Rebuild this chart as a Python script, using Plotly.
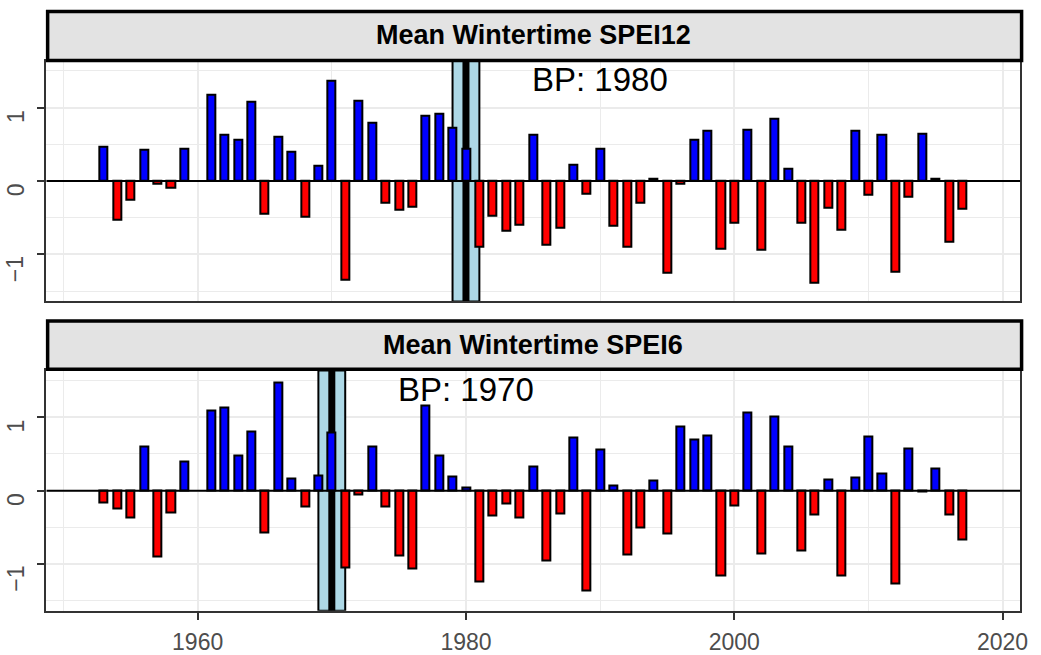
import plotly.graph_objects as go

# ---------------- data ----------------
years = list(range(1953, 2018))

spei12 = [0.47, -0.53, -0.25, 0.43, -0.04, -0.09, 0.44, None,
          1.175, 0.63, 0.56, 1.08, -0.45, 0.61, 0.395, -0.49, 0.215, 1.37,
          -1.34, 1.10, 0.80, -0.30, -0.385, -0.345, 0.89, 0.92, 0.73, 0.44,
          -0.90, -0.47, -0.68, -0.60, 0.63, -0.87, -0.64, 0.23, -0.17, 0.44,
          -0.61, -0.89, -0.29, 0.03, -1.25, -0.04, 0.57, 0.68, -0.92, -0.56,
          0.695, -0.93, 0.85, 0.17, -0.56, -1.38, -0.36, -0.655, 0.68, -0.18,
          0.63, -1.23, -0.21, 0.64, 0.03, -0.82, -0.38]

spei6 = [-0.16, -0.24, -0.36, 0.605, -0.90, -0.30, 0.40, None,
         1.095, 1.135, 0.475, 0.81, -0.57, 1.47, 0.166, -0.22, 0.206, 0.79,
         -1.045, -0.05, 0.605, -0.22, -0.88, -1.06, 1.157, 0.475, 0.197, 0.05,
         -1.24, -0.34, -0.18, -0.36, 0.336, -0.95, -0.31, 0.72, -1.36, 0.56,
         0.07, -0.875, -0.50, 0.135, -0.58, 0.87, 0.70, 0.76, -1.15, -0.20,
         1.07, -0.85, 1.01, 0.605, -0.82, -0.33, 0.15, -1.16, 0.18, 0.74,
         0.24, -1.26, 0.58, -0.01, 0.305, -0.33, -0.67]

panel_titles = ["Mean Wintertime SPEI12", "Mean Wintertime SPEI6"]
breakpoints = [1980, 1970]
bp_ci_low = [1979, 1969]
bp_ci_high = [1981, 1971]
bp_labels = ["BP: 1980", "BP: 1970"]

xtick_vals = [1960, 1980, 2000, 2020]
xtick_text = ["1960", "1980", "2000", "2020"]
xminor_vals = [1950, 1970, 1990, 2010]
ytick_vals = [-1, 0, 1]
ytick_text = ["\u22121", "0", "1"]
yminor_vals = [-1.5, -0.5, 0.5, 1.5]

# ---------------- geometry / style ----------------
W, H = 1041, 655
FONT = "Liberation Sans, Arial, sans-serif"
px_x = lambda p: p / W
px_y = lambda p: 1 - p / H

panel_x = [px_x(46.7), px_x(1028.3)]
panels_y = [(61.4, 305.2), (375.0, 618.4)]      # top / bottom in pixels
strips_y = [(11.7, 61.3), (325.0, 373.7)]
strip_text_y = [35.2, 348.8]

XRANGE = [1948.72, 2021.33]
YRANGE = [-1.64, 1.64]
GRID = "#EBEBEB"

fig = go.Figure()
series = [spei12, spei6]
for i, vals in enumerate(series):
    xa = "x" if i == 0 else "x2"
    ya = "y" if i == 0 else "y2"
    colors = ["#0000FF" if (v is not None and v >= 0) else "#FF0000" for v in vals]
    fig.add_trace(go.Bar(
        x=years, y=vals, xaxis=xa, yaxis=ya, width=0.6,
        marker=dict(color=colors, line=dict(color="black", width=2)),
        showlegend=False, hoverinfo="x+y"))

layout = dict(
    width=W, height=H,
    margin=dict(l=0, r=0, t=0, b=0),
    paper_bgcolor="white", plot_bgcolor="white",
    bargap=0, showlegend=False,
    font=dict(family=FONT),
)

for i in range(2):
    sfx = "" if i == 0 else "2"
    top, bot = panels_y[i]
    layout["xaxis" + sfx] = dict(
        domain=panel_x, range=XRANGE, anchor="y" + sfx,
        tickmode="array", tickvals=xtick_vals, ticktext=xtick_text,
        showticklabels=(i == 1), ticks="outside" if i == 1 else "",
        ticklen=7, tickwidth=1.5, tickcolor="#333333", ticklabelstandoff=3,
        tickfont=dict(size=23, color="#4D4D4D", family=FONT),
        showgrid=True, gridcolor=GRID, gridwidth=2,
        minor=dict(tickmode="array", tickvals=xminor_vals, showgrid=True,
                   gridcolor=GRID, gridwidth=1.3, ticks=""),
        showline=True, mirror=True, linecolor="#333333", linewidth=1.5,
        zeroline=False, fixedrange=True,
    )
    layout["yaxis" + sfx] = dict(
        domain=[px_y(bot), px_y(top)], range=YRANGE, anchor="x" + sfx,
        tickmode="array", tickvals=ytick_vals, showticklabels=False,
        ticks="outside", ticklen=8, tickwidth=1.5, tickcolor="#333333",
        showgrid=True, gridcolor=GRID, gridwidth=2,
        minor=dict(tickmode="array", tickvals=yminor_vals, showgrid=True,
                   gridcolor=GRID, gridwidth=1.3, ticks=""),
        showline=True, mirror=True, linecolor="#333333", linewidth=1.5,
        zeroline=False, fixedrange=True,
    )

shapes = []
annotations = []
for i in range(2):
    sfx = "" if i == 0 else "2"
    xr, yr = "x" + sfx, "y" + sfx
    # breakpoint confidence band
    shapes.append(dict(type="rect", layer="between", xref=xr, yref=yr,
                       x0=bp_ci_low[i], x1=bp_ci_high[i], y0=YRANGE[0], y1=YRANGE[1],
                       fillcolor="#ADD8E6", line=dict(color="black", width=2)))
    # breakpoint line
    shapes.append(dict(type="line", layer="between", xref=xr, yref=yr,
                       x0=breakpoints[i], x1=breakpoints[i], y0=YRANGE[0], y1=YRANGE[1],
                       line=dict(color="black", width=7)))
    # zero line
    shapes.append(dict(type="line", layer="above", xref=xr, yref=yr,
                       x0=XRANGE[0], x1=XRANGE[1], y0=0, y1=0,
                       line=dict(color="black", width=2)))
    # strip
    s0, s1 = strips_y[i]
    shapes.append(dict(type="rect", layer="above", xref="paper", yref="paper",
                       x0=px_x(48.0), x1=px_x(1029.5), y0=px_y(s1), y1=px_y(s0),
                       fillcolor="#E3E3E3", line=dict(color="black", width=3.5)))
    annotations.append(dict(xref="paper", yref="paper",
                            x=(panel_x[0] + panel_x[1]) / 2, y=px_y(strip_text_y[i]),
                            xanchor="center", yanchor="middle", showarrow=False,
                            text="<b>" + panel_titles[i] + "</b>",
                            font=dict(size=27, color="black", family=FONT)))
    # BP label
    annotations.append(dict(xref=xr, yref=yr, x=breakpoints[i] + 10, y=1.38,
                            xanchor="center", yanchor="middle", showarrow=False,
                            text=bp_labels[i],
                            font=dict(size=33, color="black", family=FONT)))
    # y tick labels (rotated, end aligned to tick)
    for v, t in zip(ytick_vals, ytick_text):
        annotations.append(dict(xref="paper", yref=yr, x=px_x(31), y=v,
                                xanchor="right", yanchor="top", textangle=-90,
                                showarrow=False, text=t,
                                font=dict(size=23, color="#4D4D4D", family=FONT)))

layout["shapes"] = shapes
layout["annotations"] = annotations
fig.update_layout(**layout)

fig.write_html("out.html",
               config={"displayModeBar": False},
               post_script="document.body.style.margin='0';document.body.style.padding='0';"
                           "document.body.style.overflow='hidden';")
